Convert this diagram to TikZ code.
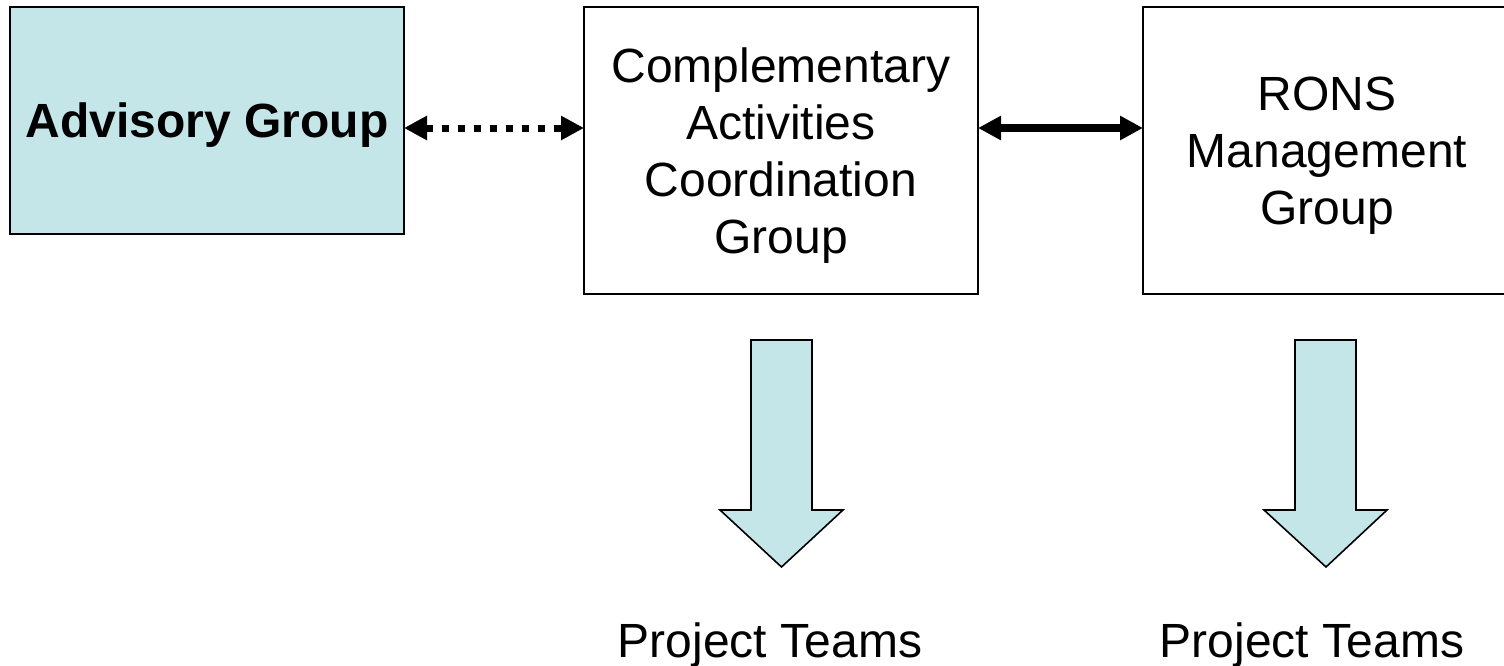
\documentclass[tikz,border=0pt]{standalone}
\usepackage{fontspec}
\setmainfont{Liberation Sans}
\usetikzlibrary{arrows.meta}
\definecolor{paleblue}{RGB}{197,230,232}
\begin{document}
\begin{tikzpicture}[x=0.5pt,y=-0.5pt,
  box/.style={draw=black,line width=1pt,inner sep=0pt,align=center,text depth=0pt,
    font=\fontsize{24}{28.5}\selectfont},
  blockarrow/.style={draw=black,line width=0.8pt,fill=paleblue,line join=miter},
  label/.style={font=\fontsize{24}{28.5}\selectfont,inner sep=0pt,anchor=base},
  biarrow/.style={{Triangle[length=11.5pt,width=11.5pt]}-{Triangle[length=11.5pt,width=11.5pt]}}
]
\useasboundingbox (0,0) rectangle (1504,665);
\clip (0,0) rectangle (1504,665);
\fill[white] (0,0) rectangle (1504,665);

\node[box,fill=paleblue,minimum width=197pt,minimum height=113.5pt,font=\fontsize{24}{28.5}\selectfont\bfseries]
  (adv) at (207,120.5) {Advisory Group};
\node[box,minimum width=197pt,minimum height=143.5pt]
  (cacg) at (781,150.5) {Complementary\\Activities\\Coordination\\Group};
\node[box,minimum width=184pt,minimum height=143.5pt]
  (rons) at (1327,150.5) {RONS\\Management\\Group};

\coordinate (advR) at (404,128);
\coordinate (cacgL) at (584,128);
\coordinate (cacgR) at (978,128);
\coordinate (ronsL) at (1143,128);

\draw[biarrow,line width=3.5pt,dash pattern=on 3.5pt off 4.5pt] (advR) -- (cacgL);
\draw[biarrow,line width=4pt] (cacgR) -- (ronsL);

% block arrows
\draw[blockarrow] (751,340) -- (812,340) -- (812,510) -- (843,510) -- (781.5,567)
  -- (720,510) -- (751,510) -- cycle;
\draw[blockarrow] (1295,340) -- (1356,340) -- (1356,510) -- (1387,510) -- (1326,567)
  -- (1264,510) -- (1295,510) -- cycle;

\node[label] (pt1) at (770,657) {Project Teams};
\node[label] (pt2) at (1312,657) {Project Teams};
\end{tikzpicture}
\end{document}
